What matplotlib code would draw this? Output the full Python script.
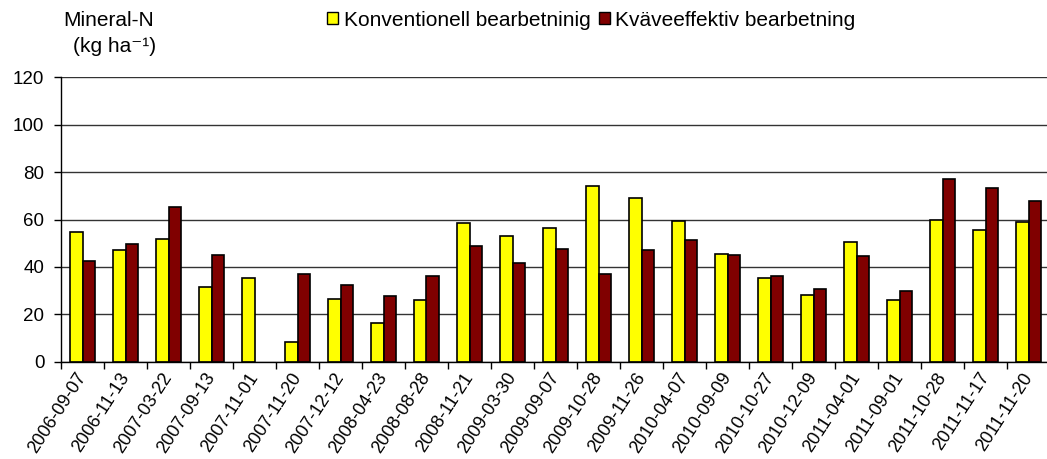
import matplotlib
matplotlib.use("Agg")
import matplotlib.pyplot as plt
import numpy as np
from matplotlib.patches import Patch

plt.rcParams['font.family'] = ['Liberation Sans', 'DejaVu Sans']

dates = ["2006-09-07", "2006-11-13", "2007-03-22", "2007-09-13", "2007-11-01",
         "2007-11-20", "2007-12-12", "2008-04-23", "2008-08-28", "2008-11-21",
         "2009-03-30", "2009-09-07", "2009-10-28", "2009-11-26", "2010-04-07",
         "2010-09-09", "2010-10-27", "2010-12-09", "2011-04-01", "2011-09-01",
         "2011-10-28", "2011-11-17", "2011-11-20"]
konventionell = [54.6, 47.3, 51.6, 31.5, 35.2, 8.4, 26.5, 16.3, 25.9, 58.5,
                 53.0, 56.5, 74.1, 69.2, 59.5, 45.3, 35.5, 28.0, 50.6, 26.0,
                 59.9, 55.4, 58.8]
kvaveeffektiv = [42.6, 49.5, 65.3, 45.0, 0.0, 36.9, 32.2, 27.9, 36.2, 49.0,
                 41.8, 47.6, 37.0, 47.0, 51.4, 45.2, 36.2, 30.5, 44.6, 29.7,
                 77.2, 73.2, 67.7]
yticks = [0, 20, 40, 60, 80, 100, 120]
series_names = ["Konventionell bearbetninig", "Kväveeffektiv bearbetning"]
colors = ["#FFFF00", "#800000"]

W, H = 1047, 459
fig = plt.figure(figsize=(W / 100, H / 100), dpi=100)
ax = fig.add_axes([61 / W, (H - 361.7) / H, 989 / W, 284.4 / H])

x = np.arange(len(dates))
bw = 0.2857
for offs, vals, col in [(-bw / 2, konventionell, colors[0]), (bw / 2, kvaveeffektiv, colors[1])]:
    lws = [1.2 if v > 0 else 0 for v in vals]
    ax.bar(x + offs, vals, bw, color=col, edgecolor="black", linewidth=lws, zorder=3)

ax.set_xlim(-0.5, len(dates) - 0.5)
ax.set_ylim(0, 120)
ax.set_yticks(yticks)
ax.yaxis.grid(True, color="#333333", linewidth=1.0, zorder=0)
ax.set_axisbelow(True)
for s in ["top", "right"]:
    ax.spines[s].set_visible(False)
ax.spines["left"].set_linewidth(1.0)
ax.spines["bottom"].set_linewidth(1.0)
ax.spines["bottom"].set_zorder(4)
ax.tick_params(axis="y", direction="out", length=5, width=1, labelsize=13.5, pad=7)

ax.set_xticks(x)
ax.set_xticklabels(dates, rotation=57, ha="right", va="center", rotation_mode="anchor", fontsize=13)
ax.tick_params(axis="x", which="major", length=0, pad=9)
ax.set_xticks(np.arange(len(dates) + 1) - 0.5, minor=True)
ax.tick_params(axis="x", which="minor", direction="out", length=5, width=1)

fig.text(63 / W, 1 - 20 / H, "Mineral-N", fontsize=15, ha="left", va="center")
fig.text(73 / W, 1 - 46 / H, "(kg ha\u207b\u00b9)", fontsize=15, ha="left", va="center")

handles = [Patch(facecolor=c, edgecolor="black", linewidth=1.0) for c in colors]
fig.legend(handles, series_names, loc="center left", bbox_to_anchor=(327 / W, 1 - 20 / H),
           ncol=2, frameon=False, fontsize=15, handlelength=0.55, handleheight=0.55,
           handletextpad=0.25, columnspacing=0.4, borderpad=0, borderaxespad=0)

fig.savefig("out.png", dpi=100)
